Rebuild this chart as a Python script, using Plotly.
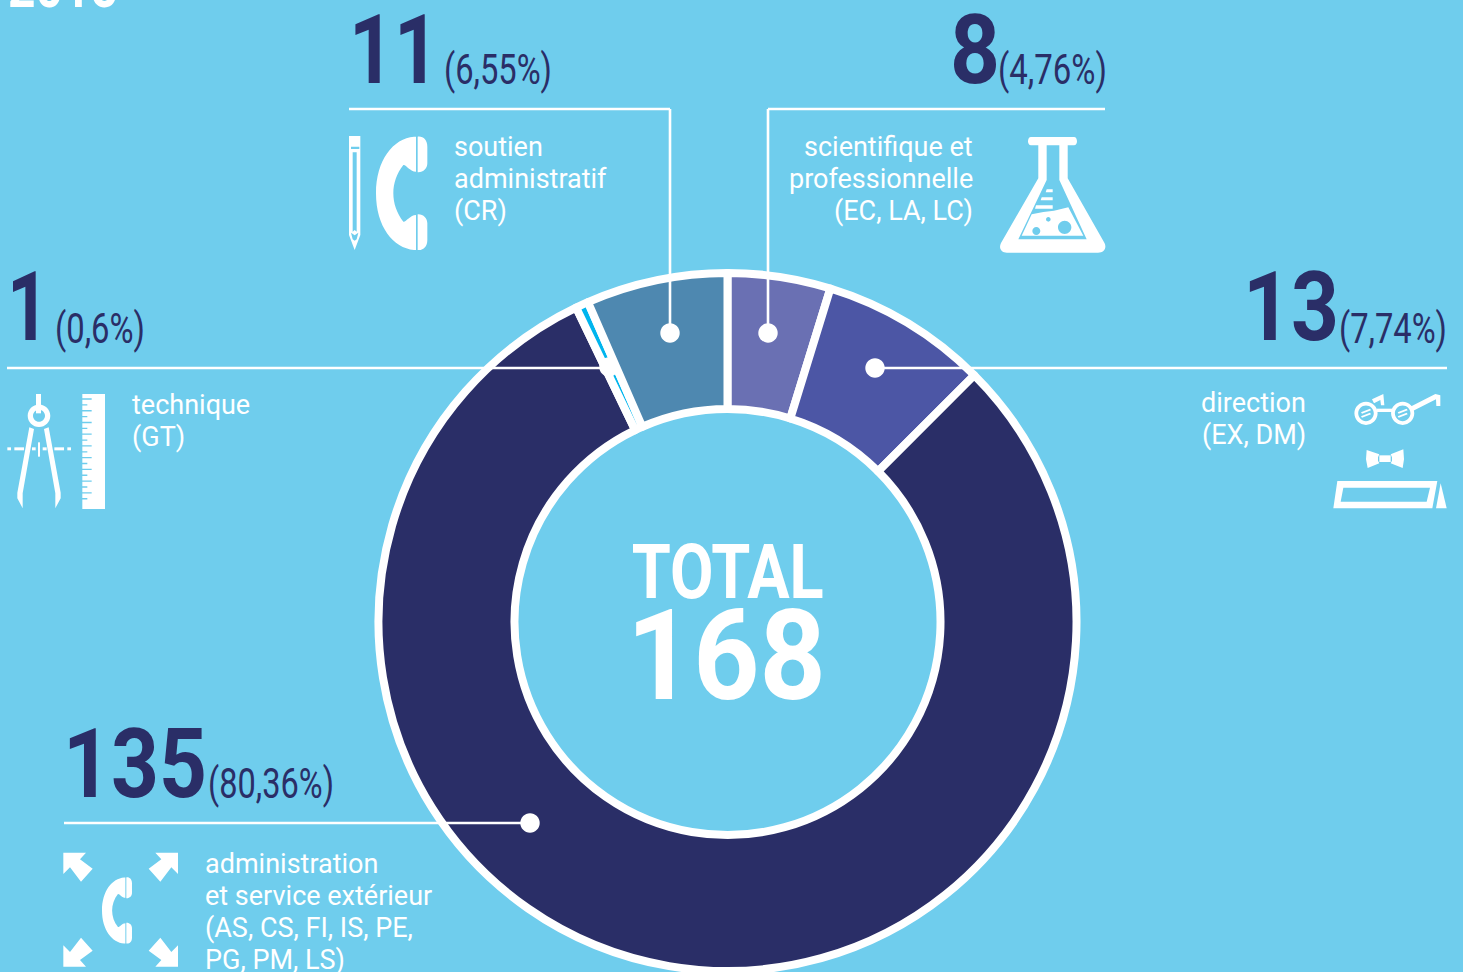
import re
import json
import plotly.graph_objects as go

W, H = 1463, 972
BG = "#6FCDED"
NAVY = "#2A2E67"
WHITE = "#FFFFFF"

categories = ["scientifique et professionnelle", "direction",
              "administration et service extérieur", "technique", "soutien administratif"]
values = [8, 13, 135, 1, 11]
colors = ["#6A70B3", "#4C56A5", "#2A2E67", "#00B5EE", "#4E88B0"]
percents = ["(4,76%)", "(7,74%)", "(80,36%)", "(0,6%)", "(6,55%)"]
total_label = "TOTAL"
total_value = "168"
year_label = "2015"

CX, CY, R = 727.5, 622, 349
R_HOLE = 213


def px(x, y):
    return x / W, 1 - y / H


def path_px(s):
    out = []
    toks = re.findall(r"[A-Za-z]|-?\d+\.?\d*", s)
    i = 0
    while i < len(toks):
        if toks[i].isalpha():
            out.append(toks[i])
            i += 1
        else:
            a, b = px(float(toks[i]), float(toks[i + 1]))
            out.append(f"{a:.6f},{b:.6f}")
            i += 2
    return " ".join(out)


shapes = []


def fill(s, color=WHITE):
    shapes.append(dict(type="path", xref="paper", yref="paper", path=path_px(s),
                       fillcolor=color, line=dict(width=0), layer="above"))


def poly(pts):
    return "M " + " L ".join(f"{x:.2f} {y:.2f}" for x, y in pts) + " Z "


def circle(cx, cy, r):
    k = 0.5523 * r
    return (f"M {cx-r:.2f} {cy:.2f} C {cx-r:.2f} {cy-k:.2f} {cx-k:.2f} {cy-r:.2f} {cx:.2f} {cy-r:.2f} "
            f"C {cx+k:.2f} {cy-r:.2f} {cx+r:.2f} {cy-k:.2f} {cx+r:.2f} {cy:.2f} "
            f"C {cx+r:.2f} {cy+k:.2f} {cx+k:.2f} {cy+r:.2f} {cx:.2f} {cy+r:.2f} "
            f"C {cx-k:.2f} {cy+r:.2f} {cx-r:.2f} {cy+k:.2f} {cx-r:.2f} {cy:.2f} Z ")


def zmap(ox, oy):
    return lambda pts: [(ox + x / 3, oy + y / 3) for x, y in pts]


def line(pts):
    for (x0, y0), (x1, y1) in zip(pts, pts[1:]):
        a0, b0 = px(x0, y0)
        a1, b1 = px(x1, y1)
        shapes.append(dict(type="line", xref="paper", yref="paper", x0=a0, y0=b0, x1=a1, y1=b1,
                           line=dict(color=WHITE, width=2.6), layer="above"))


# leader lines and dots
line([(349, 109), (670, 109), (670, 333)])
line([(1105, 109), (768, 109), (768, 333)])
line([(875, 368), (1447, 368)])
line([(7, 368), (610, 368)])
line([(64, 823), (530, 823)])
for dx, dy in [(670, 333), (768, 333), (875, 368), (609, 367), (530, 823)]:
    fill(circle(dx, dy, 9.7))


# phone icon
def phone(ox, oy, s):
    def m(zx, zy):
        return f"{ox + (zx - 108) / 3 * s:.2f} {oy + (zy - 408) / 3 * s:.2f}"
    d = (f"M {m(222,410)} C {m(160,415)} {m(108,480)} {m(108,580)} C {m(108,680)} {m(160,745)} {m(222,750)} "
         f"L {m(228,750)} L {m(228,645)} C {m(210,645)} {m(197,668)} {m(190,665)} "
         f"C {m(170,640)} {m(160,610)} {m(160,580)} C {m(160,550)} {m(170,520)} {m(190,495)} "
         f"C {m(197,492)} {m(210,515)} {m(228,515)} L {m(228,410)} Z ")
    d += (f"M {m(233,410)} C {m(250,408)} {m(262,420)} {m(262,440)} L {m(262,490)} "
          f"C {m(262,505)} {m(250,518)} {m(233,517)} Z ")
    d += (f"M {m(233,643)} C {m(250,642)} {m(262,655)} {m(262,670)} L {m(262,720)} "
          f"C {m(262,740)} {m(250,752)} {m(233,750)} Z ")
    fill(d)


phone(376, 136, 1.0)
phone(102, 877, 0.584)

# pencil
z = zmap(340, 0)
fill(poly(z([(27, 408), (61, 408), (61, 705), (44, 750), (27, 705)]))
     + poly(z([(33, 440), (58, 440), (58, 447), (33, 447)]))
     + poly(z([(38, 457), (50, 457), (50, 695), (44, 690), (38, 695)]))
     + poly(z([(33, 698), (44, 706), (55, 698), (50, 718), (44, 722), (38, 718)])))

# compass and ruler
z = zmap(0, 250)
fill(poly(z([(108, 432), (123, 432), (123, 490), (108, 490)])))
fill(circle(39, 415.7, 11.3) + circle(39, 415.7, 6))
fill(poly(z([(88, 532), (102, 537), (68, 730), (68, 775), (52, 745), (52, 728)])))
fill(poly(z([(146, 532), (132, 537), (166, 730), (166, 775), (182, 745), (182, 728)])))
for a, b in [(22, 33), (43, 72), (96, 107), (128, 140), (163, 192), (202, 213)]:
    fill(poly(z([(a, 592), (b, 592), (b, 601), (a, 601)])))
fill(poly(z([(114, 577), (120, 577), (120, 620), (114, 620)])))
d = poly(z([(247, 432), (315, 432), (315, 777), (247, 777)]))
for n in range(18):
    y = 445 + n * 17.6
    d += poly(z([(247, y), (275 if n % 2 == 0 else 262, y), (275 if n % 2 == 0 else 262, y + 4), (247, y + 4)]))
fill(d)

# flask
z = zmap(980, 120)
fill("M 1031 137 L 1074 137 C 1078 137 1078 145.3 1074 145.3 L 1067.7 145.3 L 1067.7 178.3 "
     "L 1104.5 243 C 1107 248 1104 252.7 1098 252.7 L 1007 252.7 C 1001 252.7 998.5 248 1001 243 "
     "L 1038.3 178.3 L 1038.3 145.3 L 1031 145.3 C 1027 145.3 1027 137 1031 137 Z "
     + poly(z([(200, 76), (238, 76), (238, 180), (320, 358), (115, 358), (200, 180)])))
fill(poly(z([(155, 283), (190, 276), (222, 272), (265, 262), (310, 347), (125, 347)]))
     + circle(980 + 169 / 3, 120 + 333 / 3, 4)
     + circle(980 + 254 / 3, 120 + 322 / 3, 6.7)
     + circle(980 + 205 / 3, 120 + 298 / 3, 2.3))
for a, b, c, e in [(200, 218, 208, 217), (185, 218, 232, 241), (168, 218, 256, 266)]:
    fill(poly(z([(a, c), (b, c), (b, e), (a - 3, e)])))

# glasses, bow tie, name plate
lens_l = (980 + 1158 / 3, 120 + 880 / 3)
lens_r = (980 + 1268 / 3, 120 + 880 / 3)
for cx_, cy_ in (lens_l, lens_r):
    fill(circle(cx_, cy_, 11.6) + circle(cx_, cy_, 7.8))
    fill(poly([(cx_ - 5, cy_ - 1), (cx_ + 4, cy_ - 4.5), (cx_ + 5, cy_ - 3), (cx_ - 4, cy_ + 0.5)]))
    fill(poly([(cx_ - 5, cy_ + 3), (cx_ + 4, cy_ - 0.5), (cx_ + 5, cy_ + 1), (cx_ - 4, cy_ + 4.5)]))
fill(poly(z([(1190, 866), (1236, 866), (1236, 876), (1190, 876)])))
fill(poly(z([(1288, 862), (1366, 822), (1381, 826), (1381, 858), (1369, 858), (1368, 838), (1294, 875)])))
fill(poly(z([(1176, 838), (1210, 822), (1213, 856), (1203, 856), (1201, 840), (1182, 850)])))
fill(poly(z([(1160, 990), (1198, 1003), (1194, 1012), (1194, 1022), (1198, 1030), (1163, 1044), (1158, 1018)])))
fill(poly(z([(1270, 988), (1232, 1003), (1236, 1012), (1236, 1022), (1232, 1030), (1268, 1044), (1272, 1018)])))
fill(poly(z([(1198, 1006), (1232, 1006), (1232, 1026), (1198, 1026)])))
fill(poly(z([(1072, 1083), (1372, 1083), (1357, 1165), (1060, 1165)]))
     + poly(z([(1090, 1103), (1350, 1103), (1340, 1145), (1082, 1145)])))
fill(poly(z([(1382, 1090), (1400, 1165), (1368, 1165)])))

# arrows
z = zmap(0, 830)
tl = [(190, 68), (258, 68), (240, 88), (278, 116), (243, 155), (210, 112), (190, 132)]
for fx, fy in [(0, 0), (1, 0), (0, 1), (1, 1)]:
    pts = [((724 - x) if fx else x, (478 - y) if fy else y) for x, y in tl]
    fill(poly(z(pts)))

ROB = "Roboto"
ann = []
condense = {}


def text(s, x, y, size, color, anchor="left", bold=False, width=None):
    a, b = px(x, y)
    t = f"<b>{s}</b>" if bold else s
    if width:
        condense[len(ann)] = [width, anchor]
    ann.append(dict(text=t, x=a, y=b, xref="paper", yref="paper", xanchor=anchor, yanchor="middle",
                    showarrow=False, font=dict(family=ROB, size=size, color=color),
                    borderpad=0, borderwidth=0))


BIG = 97
SMALL = 42
BODY = 27

text(str(values[4]), 349, 50, BIG, NAVY, bold=True, width=90)
text(percents[4], 444, 70, SMALL, NAVY, width=108)
text(str(values[0]), 950, 49.5, BIG, NAVY, bold=True, width=50)
text(percents[0], 998, 70, SMALL, NAVY, width=109)
text(str(values[3]), 7, 307, BIG, NAVY, bold=True, width=42)
text(percents[3], 55, 328, SMALL, NAVY, width=90)
text(str(values[1]), 1243, 307, BIG, NAVY, bold=True, width=96)
text(percents[1], 1339, 328, SMALL, NAVY, width=108)
text(str(values[2]), 63, 763.5, BIG, NAVY, bold=True, width=144)
text(percents[2], 208, 783, SMALL, NAVY, width=126)

for s, y in [("soutien", 147), ("administratif", 179), ("(CR)", 211)]:
    text(s, 453.5, y, BODY, WHITE)
for s, y in [("scientifique et", 147), ("professionnelle", 179), ("(EC, LA, LC)", 211)]:
    text(s, 973, y, BODY, WHITE, anchor="right")
for s, y in [("technique", 405), ("(GT)", 437)]:
    text(s, 131.5, y, BODY, WHITE)
for s, y in [("direction", 403), ("(EX, DM)", 435)]:
    text(s, 1305.5, y, BODY, WHITE, anchor="right")
for s, y in [("administration", 864), ("et service extérieur", 896),
             ("(AS, CS, FI, IS, PE,", 928), ("PG, PM, LS)", 960)]:
    text(s, 204.5, y, BODY, WHITE)

text(total_label, 727, 572, 76, WHITE, anchor="center", bold=True, width=192)
text(total_value, 726, 655, 127, WHITE, anchor="center", bold=True, width=199)
text(year_label, 8, -14, 60, WHITE, bold=True, width=110)

fig = go.Figure(go.Pie(
    labels=categories, values=values, sort=False, direction="clockwise", rotation=0,
    hole=R_HOLE / R, textinfo="none", hoverinfo="label+value", showlegend=False,
    marker=dict(colors=colors, line=dict(color=WHITE, width=8)),
    domain=dict(x=[(CX - R) / W, (CX + R) / W], y=[1 - (CY + R) / H, 1 - (CY - R) / H]),
))
fig.update_layout(width=W, height=H, margin=dict(l=0, r=0, t=0, b=0),
                  paper_bgcolor=BG, plot_bgcolor=BG, shapes=shapes, annotations=ann, showlegend=False)

# The condensed display face is not installed: squeeze Roboto to the widths of the reference.
post = """
document.documentElement.style.margin='0';
document.body.style.margin='0';
document.body.style.overflow='hidden';
var C = %s;
document.querySelectorAll('.annotation').forEach(function(g){
  var c = C[g.getAttribute('data-index')];
  if(!c) return;
  var t = g.querySelector('text');
  var w = t.getComputedTextLength();
  t.setAttribute('textLength', c[0]);
  t.setAttribute('lengthAdjust', 'spacingAndGlyphs');
  if(c[1]==='left'){
    t.querySelectorAll('tspan').forEach(function(s){ s.removeAttribute('x'); });
    t.setAttribute('x', parseFloat(t.getAttribute('x')) - (w - c[0]) / 2);
  }
});
""" % json.dumps(condense)
fig.write_html("out.html", config=dict(displayModeBar=False), post_script=post)
